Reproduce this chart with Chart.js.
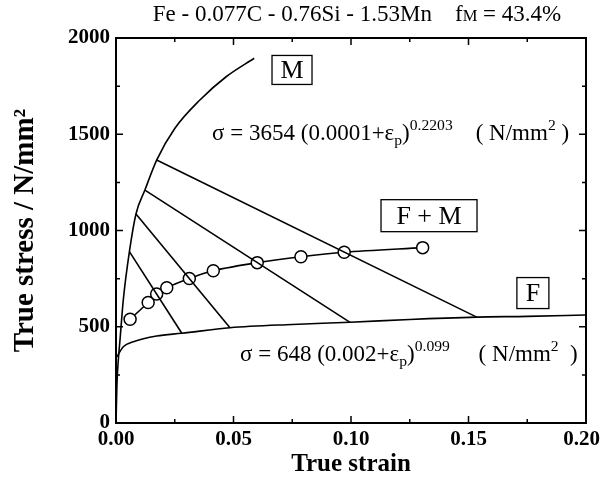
<!DOCTYPE html>
<html>
<head>
<meta charset="utf-8">
<script src="https://cdn.jsdelivr.net/npm/chart.js@4.4.0/dist/chart.umd.min.js"></script>
<style>
  html, body { margin: 0; padding: 0; background: #fff; }
</style>
</head>
<body>
<canvas id="chart" width="602" height="483"></canvas>
<script>
const serif = '"Liberation Serif", "Times New Roman", serif';

// martensite flow curve
const mStrain = [0, 0.0004, 0.0010, 0.0017, 0.0031, 0.0057, 0.0085, 0.0123, 0.0173, 0.0250, 0.0357, 0.0470, 0.0588];
const mStress = [0, 200, 330, 431, 639, 890, 1086, 1210, 1366, 1530, 1678, 1800, 1895];

// ferrite flow curve
const fStrain = [0.0004, 0.0031, 0.0074, 0.0173, 0.0280, 0.0485, 0.0750, 0.0996, 0.1250, 0.1535, 0.1750, 0.1996];
const fStress = [344, 396, 422, 452, 466, 495, 512, 523, 538, 550, 554, 561];

// iso-work lines, from a point on M to a point on F
const isoStartStrain = [0.0057, 0.0085, 0.0123, 0.0173];
const isoStartStress = [890, 1086, 1210, 1366];
const isoEndStrain = [0.0280, 0.0485, 0.0996, 0.1535];
const isoEndStress = [466, 495, 523, 550];

// F + M composite, open circles
const fmStrain = [0.0060, 0.0137, 0.0173, 0.0216, 0.0312, 0.0414, 0.0601, 0.0787, 0.0971, 0.1305];
const fmStress = [539, 626, 670, 703, 751, 791, 833, 864, 887, 911];

const xTicks = [0, 0.05, 0.10, 0.15, 0.20];
const yTicks = [0, 500, 1000, 1500, 2000];

const pts = (xs, ys) => xs.map((v, i) => ({ x: v, y: ys[i] }));

const lineStyle = {
  showLine: true,
  borderColor: '#000',
  borderWidth: 1.6,
  pointRadius: 0,
  fill: false
};

const datasets = [
  { ...lineStyle, data: pts(mStrain, mStress), cubicInterpolationMode: 'monotone' },
  { ...lineStyle, data: pts(fStrain, fStress), cubicInterpolationMode: 'monotone' }
];
isoStartStrain.forEach((s, i) => {
  datasets.push({ ...lineStyle, data: pts([s, isoEndStrain[i]], [isoStartStress[i], isoEndStress[i]]) });
});
datasets.push({
  ...lineStyle,
  data: pts(fmStrain, fmStress),
  tension: 0.3,
  pointRadius: 6,
  pointBackgroundColor: '#fff',
  pointBorderColor: '#000',
  pointBorderWidth: 1.5
});

// draws text pieces with sub/superscripts, returns end x
function drawParts(ctx, x, y, parts, size, measureOnly) {
  let cx = x;
  parts.forEach(p => {
    const small = p.sub || p.sup;
    const s = small ? size * (p.k || 0.68) : size;
    ctx.font = `${s}px ${serif}`;
    const dy = p.sub ? size * (p.dy != null ? p.dy : 0.22) : p.sup ? -size * 0.42 : 0;
    if (!measureOnly) ctx.fillText(p.t, cx, y + dy);
    cx += ctx.measureText(p.t).width;
  });
  return cx;
}

function boxLabel(ctx, text, cx, cy, w, h, size) {
  ctx.lineWidth = 1.3;
  ctx.strokeRect(cx - w / 2, cy - h / 2, w, h);
  ctx.font = `${size}px ${serif}`;
  ctx.textAlign = 'center';
  ctx.textBaseline = 'middle';
  ctx.fillText(text, cx, cy + 1);
  ctx.textAlign = 'left';
  ctx.textBaseline = 'alphabetic';
}

const decor = {
  id: 'decor',
  afterDraw(chart) {
    const { ctx, chartArea: a, scales: { x, y } } = chart;
    ctx.save();
    ctx.strokeStyle = '#000';
    ctx.fillStyle = '#000';

    // frame
    ctx.lineWidth = 2;
    ctx.strokeRect(a.left, a.top, a.right - a.left, a.bottom - a.top);

    // inward ticks on all four sides, minor ones halfway between labels
    ctx.lineWidth = 1.5;
    ctx.beginPath();
    for (let i = 0; i < xTicks.length; i++) {
      const vals = [[xTicks[i], 7]];
      if (i < xTicks.length - 1) vals.push([(xTicks[i] + xTicks[i + 1]) / 2, 4]);
      vals.forEach(([v, len]) => {
        const px = x.getPixelForValue(v);
        ctx.moveTo(px, a.bottom); ctx.lineTo(px, a.bottom - len);
        ctx.moveTo(px, a.top); ctx.lineTo(px, a.top + len);
      });
    }
    for (let i = 0; i < yTicks.length; i++) {
      const vals = [[yTicks[i], 7]];
      if (i < yTicks.length - 1) vals.push([(yTicks[i] + yTicks[i + 1]) / 2, 4]);
      vals.forEach(([v, len]) => {
        const py = y.getPixelForValue(v);
        ctx.moveTo(a.left, py); ctx.lineTo(a.left + len, py);
        ctx.moveTo(a.right, py); ctx.lineTo(a.right - len, py);
      });
    }
    ctx.stroke();

    // x tick labels (last one pulled in so it stays on the page)
    ctx.font = `bold 21px ${serif}`;
    ctx.textAlign = 'center';
    ctx.textBaseline = 'top';
    xTicks.forEach(v => {
      const label = v.toFixed(2);
      const w = ctx.measureText(label).width;
      const px = Math.min(x.getPixelForValue(v), chart.width - 2 - w / 2);
      ctx.fillText(label, px, a.bottom + 6);
    });
    ctx.textAlign = 'left';

    // title, centred over the figure
    ctx.textBaseline = 'alphabetic';
    const titleParts = [
      { t: 'Fe - 0.077C - 0.76Si - 1.53Mn    f' },
      { t: 'M', sub: true, k: 0.72, dy: 0.02 },
      { t: ' = 43.4%' }
    ];
    const tw = drawParts(ctx, 0, 0, titleParts, 23, true);
    drawParts(ctx, 357 - tw / 2, 21, titleParts, 23);

    // phase labels
    boxLabel(ctx, 'M', x.getPixelForValue(0.0749), y.getPixelForValue(1834), 40, 29, 26);
    boxLabel(ctx, 'F + M', x.getPixelForValue(0.1332), y.getPixelForValue(1077), 96, 32, 26);
    boxLabel(ctx, 'F', x.getPixelForValue(0.1774), y.getPixelForValue(675), 32, 31, 26);

    // fitted equations
    drawParts(ctx, x.getPixelForValue(0.0409), y.getPixelForValue(1470), [
      { t: 'σ = 3654 (0.0001+ε' }, { t: 'p', sub: true }, { t: ')' },
      { t: '0.2203', sup: true }, { t: '    ( N/mm' }, { t: '2', sup: true }, { t: ' )' }
    ], 23);
    drawParts(ctx, x.getPixelForValue(0.0528), y.getPixelForValue(322), [
      { t: 'σ = 648 (0.002+ε' }, { t: 'p', sub: true }, { t: ')' },
      { t: '0.099', sup: true }, { t: '     ( N/mm' }, { t: '2', sup: true }, { t: '  )' }
    ], 23);
    ctx.restore();
  }
};

new Chart(document.getElementById('chart'), {
  type: 'scatter',
  data: { datasets },
  options: {
    responsive: false,
    animation: false,
    layout: { padding: { left: 0, right: 16, top: 38, bottom: 0 } },
    plugins: { legend: { display: false }, tooltip: { enabled: false } },
    scales: {
      x: {
        type: 'linear',
        min: 0,
        max: 0.2,
        afterBuildTicks: s => { s.ticks = xTicks.map(v => ({ value: v })); },
        afterFit: s => { s.height = 60; s.paddingLeft = 0; s.paddingRight = 0; },
        grid: { display: false, drawTicks: false },
        border: { display: false },
        ticks: { display: false },
        title: {
          display: true,
          text: 'True strain',
          color: '#000',
          padding: { top: 0, bottom: 3 },
          font: { family: serif, size: 25, weight: 'bold' }
        }
      },
      y: {
        type: 'linear',
        min: 0,
        max: 2000,
        afterBuildTicks: s => { s.ticks = yTicks.map(v => ({ value: v })); },
        afterFit: s => { s.width = 116; s.paddingTop = 0; s.paddingBottom = 0; },
        grid: { display: false, drawTicks: false },
        border: { display: false },
        ticks: {
          color: '#000',
          padding: 6,
          font: { family: serif, size: 21, weight: 'bold' },
          callback: v => String(v)
        },
        title: {
          display: true,
          text: 'True stress / N/mm²',
          color: '#000',
          padding: { top: 8, bottom: 0 },
          font: { family: serif, size: 29, weight: 'bold' }
        }
      }
    }
  },
  plugins: [decor]
});
</script>
</body>
</html>
